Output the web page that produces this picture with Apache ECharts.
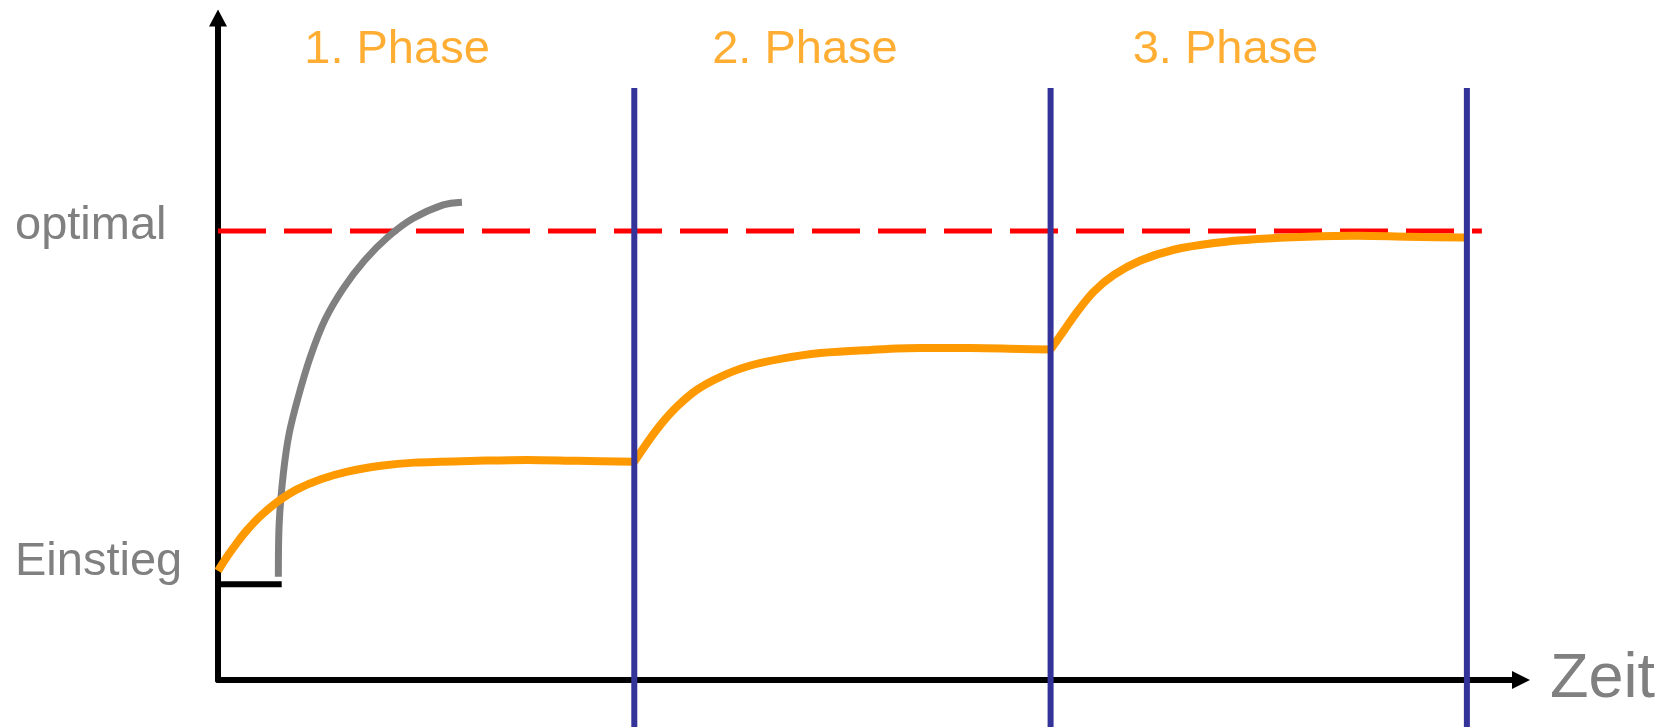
<!DOCTYPE html>
<html>
<head>
<meta charset="utf-8">
<title>Phasen</title>
<script src="https://cdn.jsdelivr.net/npm/echarts@6/dist/echarts.min.js"></script>
<style>
  html, body { margin: 0; padding: 0; background: #fff; }
  #chart { width: 1675px; height: 727px; }
</style>
</head>
<body>
<div id="chart"></div>
<script>
// Zeitachse: eine Phase = 10 Einheiten
const phaseBounds = [10, 20, 30]
const phaseNames = ['1. Phase', '2. Phase', '3. Phase']
const phaseLabelX = [4.3, 14.1, 24.2]
const phaseLabelY = 140.2

// Niveau-Beschriftungen an der y-Achse
const levelNames = ['Einstieg', 'optimal']
const levelLabelValues = [26.2, 101]
const optimalLevel = 100
const optimalEnd = 30.36

const entryLine = [[0, 21.3], [1.53, 21.3]]

// grauer, schneller Anstieg
const fastCurve = [
  [1.45, 23.0], [1.47, 34.9], [1.57, 46.0], [1.71, 54.9], [1.93, 63.1],
  [2.22, 72.0], [2.57, 80.2], [3.01, 87.2], [3.53, 93.5], [4.09, 98.7],
  [4.69, 102.8], [5.41, 105.8], [5.86, 106.4]
]

// orange Kurve, je Phase
const phase1Curve = [
  [0, 24.3], [0.22, 27.5], [0.46, 30.6], [0.7, 33.4], [1.03, 36.6],
  [1.43, 39.7], [1.91, 42.5], [2.47, 44.7], [3.11, 46.4], [3.91, 47.7],
  [4.71, 48.4], [6.23, 48.8], [7.43, 49.0], [8.63, 48.8], [10, 48.6]
]
const phase2Curve = [
  [10, 48.6], [10.3, 52.7], [10.63, 56.8], [11.03, 60.9], [11.5, 64.6],
  [12.07, 67.5], [12.71, 69.8], [13.51, 71.5], [14.47, 72.8], [15.67, 73.5],
  [16.88, 73.9], [18.08, 73.9], [19.28, 73.7], [20, 73.6]
]
const phase3Curve = [
  [20, 73.6], [20.32, 77.8], [20.64, 82.0], [21.04, 86.5], [21.52, 90.2],
  [22.16, 93.4], [22.96, 95.8], [23.93, 97.3], [24.97, 98.2], [26.17, 98.7],
  [27.37, 98.9], [28.57, 98.7], [29.9, 98.5], [30, 98.45]
]

const boundTop = 131.8
const boundBottom = -11

const FONT = '"Liberation Sans", Arial, sans-serif'
const ORANGE = '#ff9900'
const GRAY = '#808080'
const SMOOTH = 0.33

const chart = echarts.init(document.getElementById('chart'))

const orangeSeries = [phase1Curve, phase2Curve, phase3Curve].map((d) => ({
  type: 'line',
  data: d,
  smooth: SMOOTH,
  symbol: 'none',
  z: 4,
  lineStyle: { color: ORANGE, width: 8, join: 'round' }
}))

const boundSeries = phaseBounds.map((b) => ({
  type: 'line',
  data: [[b, boundTop], [b, boundBottom]],
  symbol: 'none',
  clip: false,
  z: 5,
  lineStyle: { color: '#333399', width: 6 }
}))

chart.setOption({
  animation: false,
  backgroundColor: '#fff',
  grid: {
    left: 218,
    right: 154,
    top: 18,
    bottom: 47,
    containLabel: false,
    outerBoundsMode: 'none'
  },
  xAxis: {
    type: 'value',
    min: 0,
    max: 31.3,
    name: 'Zeit',
    nameLocation: 'end',
    nameGap: 29,
    nameTextStyle: { fontSize: 63, color: GRAY, fontFamily: FONT },
    axisLine: {
      show: true,
      onZero: false,
      symbol: ['none', 'triangle'],
      symbolSize: [18, 18],
      lineStyle: { color: '#000', width: 6 }
    },
    axisTick: { show: false },
    axisLabel: { show: false },
    splitLine: { show: false }
  },
  yAxis: {
    type: 'value',
    min: 0,
    max: 147.4,
    axisLine: {
      show: true,
      onZero: false,
      symbol: ['none', 'triangle'],
      symbolSize: [18, 17],
      lineStyle: { color: '#000', width: 6 }
    },
    axisTick: { show: false },
    splitLine: { show: false },
    axisLabel: {
      show: true,
      customValues: levelLabelValues,
      formatter: (v) => {
        const i = levelLabelValues.findIndex((x) => Math.abs(x - v) < 0.01)
        return i >= 0 ? levelNames[i] : ''
      },
      align: 'left',
      margin: 203,
      fontSize: 47,
      color: GRAY,
      fontFamily: FONT
    }
  },
  series: [
    {
      type: 'line',
      data: [[0, optimalLevel], [optimalEnd, optimalLevel]],
      symbol: 'none',
      z: 2,
      lineStyle: { color: '#ff0000', width: 5, type: [48, 18] }
    },
    {
      type: 'line',
      data: fastCurve,
      smooth: SMOOTH,
      symbol: 'none',
      z: 3,
      lineStyle: { color: GRAY, width: 7, join: 'round' }
    },
    {
      type: 'line',
      data: entryLine,
      symbol: 'none',
      z: 3,
      lineStyle: { color: '#000', width: 6 }
    },
    ...orangeSeries,
    ...boundSeries,
    {
      type: 'scatter',
      data: phaseLabelX.map((x, i) => [x, phaseLabelY, phaseNames[i]]),
      symbolSize: 2,
      itemStyle: { color: 'rgba(0,0,0,0)' },
      z: 6,
      label: {
        show: true,
        position: 'inside',
        formatter: (p) => p.value[2],
        fontSize: 47,
        color: ORANGE,
        fontFamily: FONT
      }
    }
  ]
})
</script>
</body>
</html>
